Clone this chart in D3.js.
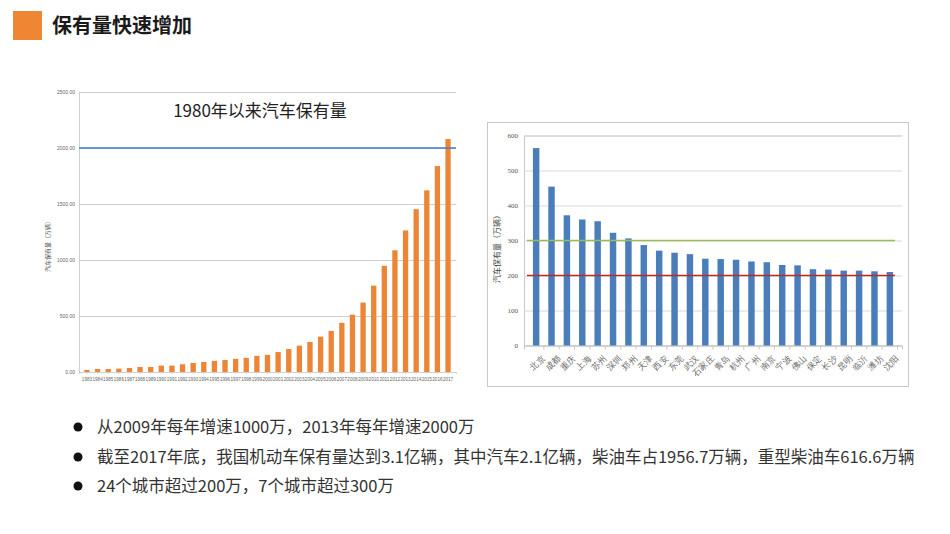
<!DOCTYPE html>
<html>
<head>
<meta charset="utf-8">
<script src="https://cdn.jsdelivr.net/npm/d3@7/dist/d3.min.js"></script>
<style>
  body { margin: 0; background: #fff; }
  svg { display: block; font-family: "Noto Sans CJK SC", "Noto Sans", sans-serif; }
</style>
</head>
<body>
<script>
// left chart: car ownership since 1983 (万辆 x10 as in source)
var years = d3.range(1983, 2018).map(String);
var ownership = [18, 27, 27, 30, 36, 45, 45, 57, 57, 69, 81, 90, 99, 108, 117, 126, 144, 153, 178, 205,
                 235, 268, 316, 367, 439, 512, 620, 771, 948, 1087, 1264, 1454, 1622, 1839, 2080];
var leftTicks = [0, 500, 1000, 1500, 2000, 2500];

// right chart: cities over 200万
var cities = ["北京", "成都", "重庆", "上海", "苏州", "深圳", "郑州", "天津", "西安", "东莞", "武汉", "石家庄",
              "青岛", "杭州", "广州", "南京", "宁波", "佛山", "保定", "长沙", "昆明", "临沂", "潍坊", "沈阳"];
var cityCars = [564, 454, 372, 360, 355, 322, 306, 287, 271, 265, 261, 248,
                247, 245, 240, 238, 230, 229, 218, 217, 214, 214, 212, 210];
var rightTicks = [0, 100, 200, 300, 400, 500, 600];

var bullets = [
  "从2009年每年增速1000万，2013年每年增速2000万",
  "截至2017年底，我国机动车保有量达到3.1亿辆，其中汽车2.1亿辆，柴油车占1956.7万辆，重型柴油车616.6万辆",
  "24个城市超过200万，7个城市超过300万"
];

var svg = d3.select("body").append("svg")
  .attr("width", 950)
  .attr("height", 534);

// header
svg.append("rect").attr("x", 13).attr("y", 11).attr("width", 29).attr("height", 29).attr("fill", "#ef8633");
svg.append("text").attr("x", 52).attr("y", 26).attr("dy", "0.35em")
  .attr("font-size", 20).attr("font-weight", "bold").attr("fill", "#1a1a1a")
  .text("保有量快速增加");

// ---------- left chart ----------
var lx = d3.scaleBand().domain(years).range([79, 456]).padding(0.5);
var ly = d3.scaleLinear().domain([0, 2500]).range([372, 92]);

var left = svg.append("g");

left.append("g")
  .attr("transform", "translate(79,0)")
  .call(d3.axisLeft(ly).tickValues(leftTicks).tickSize(-377).tickFormat(d3.format(".2f")))
  .call(function(g) {
    g.select(".domain").attr("stroke", "#d0d0d0");
    g.selectAll(".tick line").attr("stroke", "#cfcfcf");
    g.selectAll(".tick text").attr("font-size", 5).attr("fill", "#666").attr("x", -4);
  });

left.append("g")
  .attr("transform", "translate(0,372)")
  .call(d3.axisBottom(lx).tickSize(2))
  .call(function(g) {
    g.select(".domain").attr("stroke", "#d0d0d0");
    g.selectAll(".tick line").attr("stroke", "#d0d0d0");
    g.selectAll(".tick text").attr("font-size", 4.6).attr("fill", "#666").attr("dy", "0.9em");
  });

left.selectAll(".bar")
  .data(ownership)
  .enter().append("rect")
  .attr("class", "bar")
  .attr("x", function(d, i) { return lx(years[i]); })
  .attr("width", lx.bandwidth())
  .attr("y", function(d) { return ly(d); })
  .attr("height", function(d) { return ly(0) - ly(d); })
  .attr("fill", "#ed8536");

left.append("line")
  .attr("x1", 79).attr("x2", 456)
  .attr("y1", ly(2000)).attr("y2", ly(2000))
  .attr("stroke", "#3d7fc4").attr("stroke-width", 1.5);

left.append("text").attr("x", 260).attr("y", 111).attr("dy", "0.35em")
  .attr("text-anchor", "middle").attr("font-size", 17).attr("fill", "#222")
  .text("1980年以来汽车保有量");

left.append("text")
  .attr("transform", "translate(50,245) rotate(-90)")
  .attr("text-anchor", "middle").attr("font-size", 6).attr("fill", "#555")
  .text("汽车保有量（万辆）");

// ---------- right chart ----------
svg.append("rect").attr("x", 487.5).attr("y", 122.5).attr("width", 421).attr("height", 264)
  .attr("fill", "none").attr("stroke", "#c8c8c8");

var rx = d3.scaleBand().domain(cities).range([524, 902]).padding(0.58);
var ry = d3.scaleLinear().domain([0, 600]).range([345.5, 135.5]);

var right = svg.append("g");

right.append("g")
  .attr("transform", "translate(524,0)")
  .call(d3.axisLeft(ry).tickValues(rightTicks).tickSize(-378))
  .call(function(g) {
    g.select(".domain").attr("stroke", "#c8c8c8");
    g.selectAll(".tick line").attr("stroke", "#d8d8d8");
    g.selectAll(".tick text").attr("font-size", 7).attr("fill", "#555").attr("x", -6)
      .attr("font-family", "'Liberation Serif', serif");
  });

right.append("g")
  .attr("transform", "translate(0,345.5)")
  .call(d3.axisBottom(rx).tickSize(4))
  .call(function(g) {
    g.select(".domain").attr("stroke", "#c8c8c8");
    g.selectAll(".tick line").attr("stroke", "#c8c8c8")
      .attr("transform", "translate(" + (rx.step() / 2) + ",0)");
    g.selectAll(".tick text").attr("font-size", 8.5).attr("fill", "#666")
      .attr("text-anchor", "end").attr("dy", "0.3em")
      .attr("transform", "translate(3,6) rotate(-45)");
  });

right.selectAll(".bar")
  .data(cityCars)
  .enter().append("rect")
  .attr("class", "bar")
  .attr("x", function(d, i) { return rx(cities[i]); })
  .attr("width", rx.bandwidth())
  .attr("y", function(d) { return ry(d); })
  .attr("height", function(d) { return ry(0) - ry(d); })
  .attr("fill", "#4a7ebb");

right.append("line")
  .attr("x1", 527).attr("x2", 895)
  .attr("y1", ry(300)).attr("y2", ry(300))
  .attr("stroke", "#9bbb59").attr("stroke-width", 1.5);
right.append("line")
  .attr("x1", 527).attr("x2", 895)
  .attr("y1", ry(200)).attr("y2", ry(200))
  .attr("stroke", "#c0272d").attr("stroke-width", 1.5);

right.append("text")
  .attr("transform", "translate(500,247) rotate(-90)")
  .attr("text-anchor", "middle").attr("font-size", 8).attr("fill", "#444")
  .text("汽车保有量（万辆）");

// ---------- bullets ----------
var by = [427, 457, 486];
var bl = svg.append("g").selectAll("g")
  .data(bullets)
  .enter().append("g")
  .attr("transform", function(d, i) { return "translate(0," + by[i] + ")"; });

bl.append("circle").attr("cx", 78).attr("cy", 0).attr("r", 4.5).attr("fill", "#111");
bl.append("text").attr("x", 97).attr("dy", "0.35em")
  .attr("font-size", 16.5).attr("fill", "#333")
  .text(function(d) { return d; });
</script>
</body>
</html>
